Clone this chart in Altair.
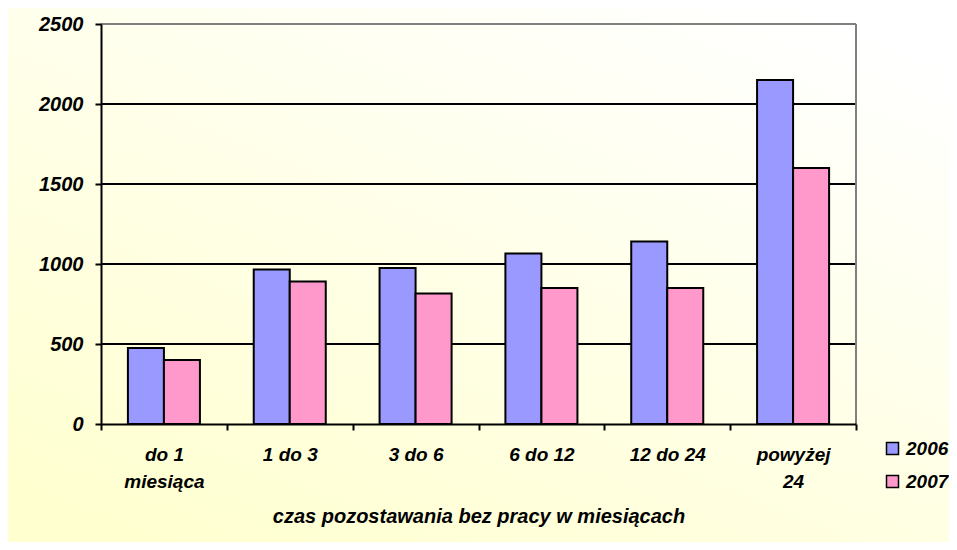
import altair as alt
import pandas as pd

categories = ["do 1 miesiąca", "1 do 3", "3 do 6", "6 do 12", "12 do 24", "powyżej 24"]
years = ["2006", "2007"]
values_2006 = [475, 965, 975, 1065, 1140, 2150]
values_2007 = [400, 890, 815, 850, 850, 1600]
y_ticks = [0, 500, 1000, 1500, 2000, 2500]
grid_values = [500, 1000, 1500, 2000]
border_values = [2500]
colors = ["#9999FF", "#FF99CC"]

rows = []
for c, a, b in zip(categories, values_2006, values_2007):
    rows.append({"cat": c, "year": "2006", "value": a})
    rows.append({"cat": c, "year": "2007", "value": b})
df = pd.DataFrame(rows)

W, H = 755, 400
PAD = {"left": 93, "top": 16, "right": 93, "bottom": 118}
FONT = "Liberation Sans"
STYLE = "oblique 14deg"

yscale = alt.Scale(domain=[0, 2500], nice=False)
yaxis = alt.Axis(
    values=y_ticks, title=None, grid=False, format="d",
    domainColor="black", domainWidth=2, tickColor="black", tickWidth=2, tickSize=6,
    labelFont=FONT, labelFontSize=20, labelFontStyle=STYLE, labelFontWeight="bold",
    labelColor="black", labelPadding=12, zindex=1,
)
y_enc = alt.Y("value:Q", scale=yscale, axis=yaxis)

xaxis = alt.Axis(
    title="czas pozostawania bez pracy w miesiącach", labelAngle=0, tickBand="extent",
    domainColor="black", domainWidth=2, tickColor="black", tickWidth=2, tickSize=6,
    labelFont=FONT, labelFontSize=19, labelFontStyle=STYLE, labelFontWeight="bold",
    labelColor="black", labelLineHeight=27, labelPadding=15, labelBaseline="top",
    labelOverlap=False,
    labelExpr="datum.value == 'do 1 miesiąca' ? ['do 1', 'miesiąca'] : datum.value == 'powyżej 24' ? ['powyżej', '24'] : datum.label",
    titleFont=FONT, titleFontSize=20, titleFontStyle=STYLE, titleFontWeight="bold",
    titleColor="black", titleY=98, titleBaseline="alphabetic", zindex=1,
)

gradient = alt.LinearGradient(
    gradient="linear",
    stops=[alt.GradientStop(color="#FFFFFF", offset=0), alt.GradientStop(color="#FFFFD0", offset=1)],
    x1=0.85, y1=0, x2=0.15, y2=1,
)

bg = alt.Chart(alt.Data(values=[{}])).mark_rect(fill=gradient).encode(
    x=alt.value(-PAD["left"]), x2=alt.value(W + PAD["right"]),
    y=alt.value(-PAD["top"]), y2=alt.value(H + PAD["bottom"]),
)

grid = alt.Chart(pd.DataFrame({"value": grid_values})).mark_rule(
    color="black", strokeWidth=2).encode(y=y_enc)
top = alt.Chart(pd.DataFrame({"value": border_values})).mark_rule(
    color="#808080", strokeWidth=2).encode(y=y_enc)
right = alt.Chart(alt.Data(values=[{}])).mark_rule(color="#808080", strokeWidth=2).encode(
    x=alt.value(W), y=alt.value(0), y2=alt.value(H))

bars = alt.Chart(df).mark_bar(stroke="black", strokeWidth=2).encode(
    x=alt.X("cat:N", sort=categories, scale=alt.Scale(paddingInner=0, paddingOuter=0), axis=xaxis),
    xOffset=alt.XOffset("year:N", sort=years, scale=alt.Scale(paddingInner=0, paddingOuter=0.747)),
    y=y_enc,
    color=alt.Color(
        "year:N", sort=years, scale=alt.Scale(domain=years, range=colors),
        legend=alt.Legend(
            title=None, orient="none", legendX=782, legendY=415, symbolType="square",
            symbolSize=144, symbolStrokeColor="black", symbolStrokeWidth=1.5, symbolOpacity=1,
            labelFont=FONT, labelFontSize=19, labelFontStyle=STYLE, labelFontWeight="bold",
            labelColor="black", rowPadding=13, labelOffset=4,
        ),
    ),
)

chart = alt.layer(bg, grid, top, right, bars).properties(
    width=W, height=H, padding=PAD, autosize=alt.AutoSizeParams(type="none"),
    background="white",
).configure_view(stroke=None).configure(font=FONT)

chart.save("out.html", embed_options={"renderer": "svg", "actions": False})
